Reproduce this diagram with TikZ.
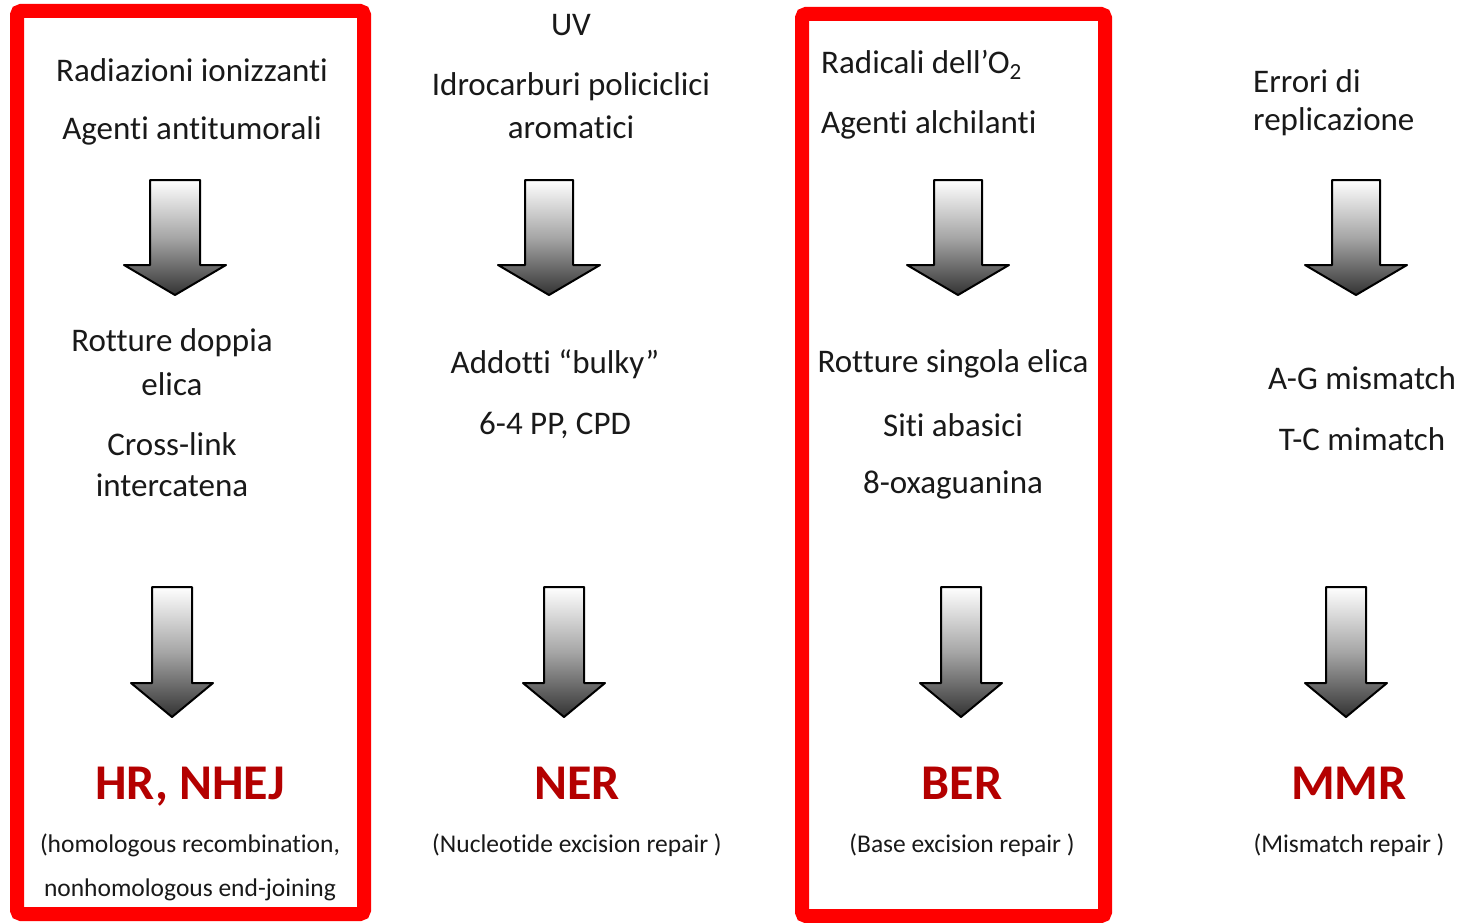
\documentclass[tikz,border=0pt]{standalone}
\usepackage{fontspec}
\setmainfont[Ligatures=NoCommon]{Carlito}
\definecolor{boxred}{RGB}{255,0,0}
\definecolor{labred}{RGB}{180,0,0}
\newcommand{\blockarrow}[6]{% cx, shaft top, head top, tip, half shaft, half head
  \shade[draw=black, line width=2pt, line join=round, top color=white, bottom color=black!80, middle color=black!35]
    (#1-#5,#2) -- (#1+#5,#2) -- (#1+#5,#3) -- (#1+#6,#3) -- (#1,#4) -- (#1-#6,#3) -- (#1-#5,#3) -- cycle;}
\begin{document}
\begin{tikzpicture}[x=1pt,y=-1pt,
  txt/.style={font=\fontsize{33}{38}\selectfont, text=black!90, inner sep=0pt},
  ltxt/.style={txt, anchor=west},
  big/.style={font=\fontsize{50}{56}\selectfont\bfseries, text=labred, inner sep=0pt},
  small/.style={font=\fontsize{25.5}{30}\selectfont, text=black!90, inner sep=0pt},
  redbox/.style={draw=boxred, line width=14pt, rounded corners=4pt}]
\useasboundingbox (0,0) rectangle (1464,923);
\fill[white] (0,0) rectangle (1464,923);
% red boxes
\draw[redbox] (17,11) rectangle (364,914);
\draw[redbox] (802,14) rectangle (1105,916);
% arrows top
\blockarrow{175}{180}{265}{295}{25}{51}
\blockarrow{549}{180}{265}{295}{24}{51}
\blockarrow{958}{180}{265}{295}{24}{51}
\blockarrow{1356}{180}{265}{295}{24}{51}
% arrows bottom
\blockarrow{172}{587}{683}{717}{20}{41}
\blockarrow{564}{587}{683}{717}{20}{41}
\blockarrow{961}{587}{683}{717}{20}{41}
\blockarrow{1346}{587}{683}{717}{20}{41}
% column 1
\node[txt] (c1a) at (192,70) {Radiazioni ionizzanti};
\node[txt] (c1b) at (192,131) {Agenti antitumorali};
\node[txt] (c1c) at (172,343) {Rotture doppia};
\node[txt] (c1d) at (172,384) {elica};
\node[txt] (c1e) at (172,444) {Cross-link};
\node[txt] (c1f) at (172,485) {intercatena};
\node[big] (c1g) at (190,787) {HR, NHEJ};
\node[small] (c1h) at (190,845) {(homologous recombination,};
\node[small] (c1i) at (190,890) {nonhomologous end-joining};
% column 2
\node[txt] (c2a) at (571,25) {UV};
\node[txt] (c2b) at (571,87) {Idrocarburi policiclici};
\node[txt] (c2c) at (571,127) {aromatici};
\node[txt] (c2d) at (555,364) {Addotti “bulky”};
\node[txt] (c2e) at (555,425) {6-4 PP, CPD};
\node[big] (c2f) at (577,783) {NER};
\node[small] (c2g) at (577,845) {(Nucleotide excision repair )};
% column 3
\node[ltxt] (c3a) at (821,65) {Radicali dell’O\textsubscript{2}};
\node[ltxt] (c3b) at (821,125) {Agenti alchilanti};
\node[txt] (c3c) at (953,364) {Rotture singola elica};
\node[txt] (c3d) at (953,425) {Siti abasici};
\node[txt] (c3e) at (953,485) {8-oxaguanina};
\node[big] (c3f) at (962,783) {BER};
\node[small] (c3g) at (962,845) {(Base excision repair )};
% column 4
\node[ltxt] (c4a) at (1253,81) {Errori di};
\node[ltxt] (c4b) at (1253,122) {replicazione};
\node[txt] (c4c) at (1362,378) {A-G mismatch};
\node[txt] (c4d) at (1362,439) {T-C mimatch};
\node[big] (c4e) at (1349,783) {MMR};
\node[small] (c4f) at (1349,845) {(Mismatch repair )};
\end{tikzpicture}
\end{document}
